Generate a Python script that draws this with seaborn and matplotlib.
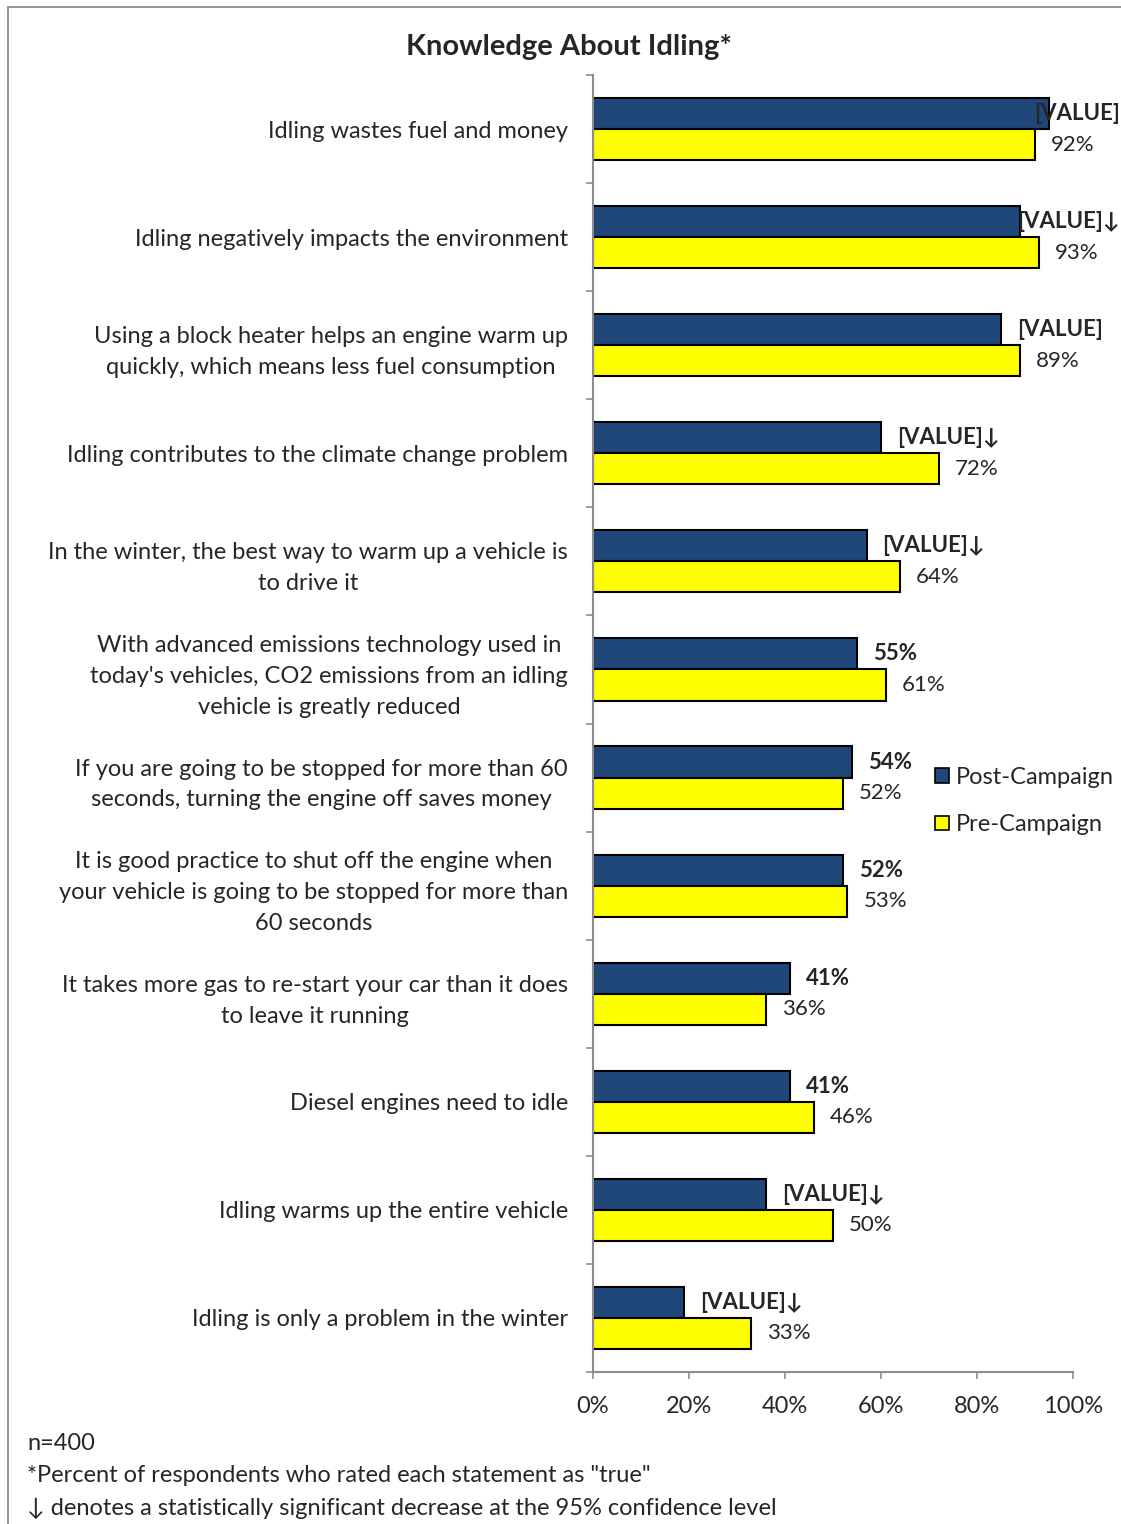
import matplotlib.pyplot as plt
import matplotlib.patches as mpatches
import seaborn as sns
import pandas as pd
import numpy as np

# --- data ---
statements = [
    "Idling wastes fuel and money",
    "Idling negatively impacts the environment",
    "Using a block heater helps an engine warm up\nquickly, which means less fuel consumption",
    "Idling contributes to the climate change problem",
    "In the winter, the best way to warm up a vehicle is\nto drive it",
    "With advanced emissions technology used in\ntoday's vehicles, CO2 emissions from an idling\nvehicle is greatly reduced",
    "If you are going to be stopped for more than 60\nseconds, turning the engine off saves money",
    "It is good practice to shut off the engine when\nyour vehicle is going to be stopped for more than\n60 seconds",
    "It takes more gas to re-start your car than it does\nto leave it running",
    "Diesel engines need to idle",
    "Idling warms up the entire vehicle",
    "Idling is only a problem in the winter",
]
post_values = [95, 89, 85, 60, 57, 55, 54, 52, 41, 41, 36, 19]
pre_values = [92, 93, 89, 72, 64, 61, 52, 53, 36, 46, 50, 33]
post_labels = ["[VALUE]", "[VALUE]\u2193", "[VALUE]", "[VALUE]\u2193", "[VALUE]\u2193", "55%",
               "54%", "52%", "41%", "41%", "[VALUE]\u2193", "[VALUE]\u2193"]
pre_labels = [f"{v}%" for v in pre_values]
series = ["Post-Campaign", "Pre-Campaign"]
colors = ["#1F477A", "#FFFF00"]
x_ticks = [0, 20, 40, 60, 80, 100]

df = pd.DataFrame({
    "statement": statements * 2,
    "value": post_values + pre_values,
    "campaign": [series[0]] * len(statements) + [series[1]] * len(statements),
})

sns.set_style("white")
plt.rcParams['font.family'] = ['Lato', 'DejaVu Sans']
fs = 17        # axis / legend / notes text
fs_val = 16    # bar value labels

W, H = 1121, 1524
fig = plt.figure(figsize=(W / 100, H / 100), dpi=100)
ax = fig.add_axes([593 / W, 1 - 1372 / H, 480 / W, (1372 - 75) / H])

sns.barplot(data=df, y="statement", x="value", hue="campaign", hue_order=series,
            palette=colors, orient="h", width=0.575, edgecolor="black", linewidth=1.5,
            saturation=1, ax=ax, legend=False)

ax.set_xlim(0, 100)
ax.set_xticks(x_ticks)
ax.set_xticklabels([f"{t}%" for t in x_ticks], fontsize=fs)
ax.set_xlabel("")
ax.set_ylabel("")
ax.set_yticks(range(len(statements)))
ax.set_yticklabels(statements, fontsize=fs, ha="right", multialignment="center",
                   linespacing=1.58)
ax.set_yticks(np.arange(-0.5, len(statements), 1), minor=True)
ax.tick_params(axis="y", which="major", length=0, pad=18)
ax.tick_params(axis="y", which="minor", length=5, color="#8c8c8c", width=1.2, direction="out", left=True)
ax.tick_params(axis="x", length=5, color="#8c8c8c", width=1.2, direction="out", bottom=True, pad=12)
for side in ["top", "right"]:
    ax.spines[side].set_visible(False)
for side in ["left", "bottom"]:
    ax.spines[side].set_color("#8c8c8c")
    ax.spines[side].set_linewidth(1.5)

# value labels
post_ann = ax.bar_label(ax.containers[0], labels=post_labels, padding=11.5, fontsize=fs_val,
                        fontweight="bold", clip_on=False)
pre_ann = ax.bar_label(ax.containers[1], labels=pre_labels, padding=11.5, fontsize=fs_val,
                       clip_on=False)

# keep labels inside the picture, like the original does
fig.canvas.draw()
renderer = fig.canvas.get_renderer()
for t in post_ann + pre_ann:
    bb = t.get_window_extent(renderer)
    if bb.x1 > W - 1:
        t.xyann = (t.xyann[0] - (bb.x1 - (W - 1)) * 72 / 100, t.xyann[1])

# legend
handles = [mpatches.Patch(facecolor=c, edgecolor="black", linewidth=1.2, label=s)
           for c, s in zip(colors, series)]
fig.legend(handles=handles, loc="upper left", bbox_to_anchor=(935 / W, 1 - 767 / H),
           frameon=False, fontsize=fs, handlelength=0.58, handleheight=0.58,
           handletextpad=0.3, labelspacing=1.12, borderaxespad=0, borderpad=0)

# title and notes
fig.text(569 / W, 1 - 47 / H, "Knowledge About Idling*", ha="center", va="center",
         fontsize=21, fontweight="bold")
notes = ["n=400", "*Percent of respondents who rated each statement as \"true\"",
         "\u2193 denotes a statistically significant decrease at the 95% confidence level"]
for i, n in enumerate(notes):
    fig.text(27 / W, 1 - (1444 + 32 * i) / H, n, ha="left", va="center", fontsize=fs)

# outer chart frame
fig.patches.append(mpatches.Rectangle((8 / W, -0.1), 1.2, 1.1 - 7 / H, transform=fig.transFigure,
                                      fill=False, edgecolor="#8c8c8c", linewidth=1.3))

fig.savefig("out.png", dpi=100)
